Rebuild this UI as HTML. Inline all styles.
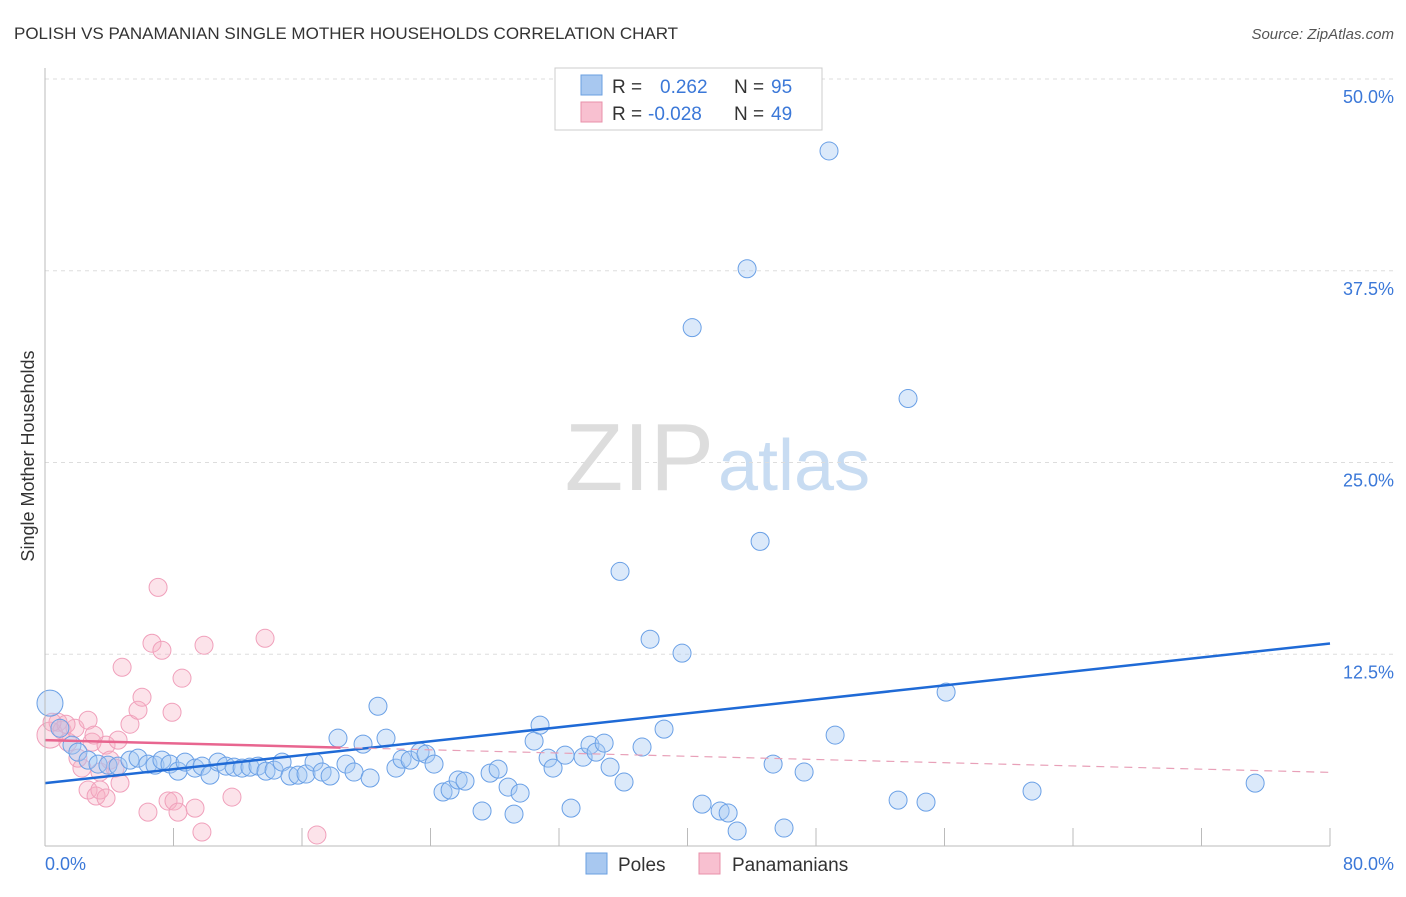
<!DOCTYPE html>
<html><head><meta charset="utf-8"><style>
body{margin:0;background:#fff;font-family:"Liberation Sans",sans-serif;}
svg text{font-family:"Liberation Sans",sans-serif;}
</style></head><body>
<svg id="chart" width="1406" height="892">
<text x="14" y="39" font-size="17" fill="#333">POLISH VS PANAMANIAN SINGLE MOTHER HOUSEHOLDS CORRELATION CHART</text>
<text x="1394" y="39" font-size="15" fill="#555" font-style="italic" text-anchor="end">Source: ZipAtlas.com</text>
<text x="714" y="490" font-size="96" fill="#ddd" text-anchor="end" font-family="Liberation Serif">ZIP</text>
<text x="718" y="490" font-size="72" fill="#c8dcf2">atlas</text>
<text transform="translate(34,456) rotate(-90)" font-size="18" fill="#333" text-anchor="middle">Single Mother Households</text>
<g id="grid"></g><g id="pts"></g><g id="lines"></g>
<line x1="45" y1="68" x2="45" y2="846" stroke="#bbb"/>
<line x1="45" y1="846" x2="1330" y2="846" stroke="#bbb"/>
<text x="45" y="870" font-size="18" fill="#3b78d8">0.0%</text>
<text x="1394" y="870" font-size="18" fill="#3b78d8" text-anchor="end">80.0%</text>
<g>
<rect x="555" y="68" width="267" height="62" fill="#fff" stroke="#ccc"/>
<rect x="581" y="75" width="21" height="20" fill="#a8c8f0" stroke="#6a9fe0"/>
<rect x="581" y="102" width="21" height="20" fill="#f8c0d0" stroke="#e890aa"/>
<text x="612" y="93" font-size="19" fill="#333">R =</text><text x="660" y="93" font-size="19" fill="#3b78d8">0.262</text>
<text x="734" y="93" font-size="19" fill="#333">N =</text><text x="771" y="93" font-size="19" fill="#3b78d8">95</text>
<text x="612" y="120" font-size="19" fill="#333">R =</text><text x="648" y="120" font-size="19" fill="#3b78d8">-0.028</text>
<text x="734" y="120" font-size="19" fill="#333">N =</text><text x="771" y="120" font-size="19" fill="#3b78d8">49</text>
</g>
<g>
<rect x="586" y="853" width="21" height="21" fill="#a8c8f0" stroke="#6a9fe0"/>
<text x="618" y="871" font-size="19" fill="#333">Poles</text>
<rect x="699" y="853" width="21" height="21" fill="#f8c0d0" stroke="#e890aa"/>
<text x="732" y="871" font-size="19" fill="#333">Panamanians</text>
</g>
</svg>
<script>
const yTicks=[12.5,25,37.5,50];
const yTickLabels=["12.5%","25.0%","37.5%","50.0%"];
const xTicks=[0,8,16,24,32,40,48,56,64,72,80];
const polesX=[0.31,0.93,1.68,2.05,2.68,3.3,3.92,4.55,5.29,5.79,6.41,6.85,7.28,7.78,8.28,8.72,9.34,9.78,10.27,10.77,11.27,11.77,12.27,12.76,13.26,13.76,14.26,14.76,15.25,15.75,16.25,16.75,17.25,17.75,18.24,18.74,19.24,19.8,20.24,20.73,21.23,21.85,22.23,22.73,23.35,23.72,24.22,24.78,25.22,25.72,26.15,27.21,27.71,28.21,28.83,29.2,29.58,30.45,30.82,31.32,31.63,32.38,32.75,33.5,33.93,34.31,34.81,35.18,35.8,36.05,37.17,37.67,38.54,39.66,40.29,40.91,42.03,42.53,43.09,43.71,44.52,45.33,46.01,47.26,48.81,49.19,53.11,53.73,54.85,56.1,61.45,75.34];
const polesY=[9.31,7.68,6.58,6.12,5.6,5.34,5.27,5.21,5.6,5.73,5.34,5.27,5.6,5.34,4.88,5.47,5.08,5.21,4.62,5.47,5.21,5.14,5.08,5.14,5.21,4.88,4.95,5.47,4.56,4.62,4.69,5.47,4.82,4.56,7.03,5.34,4.82,6.64,4.43,9.11,7.03,5.08,5.66,5.6,6.12,5.99,5.34,3.52,3.65,4.3,4.23,2.28,4.75,5.01,3.84,2.08,3.45,6.84,7.88,5.73,5.08,5.92,2.47,5.79,6.58,6.12,6.71,5.14,17.9,4.17,6.45,13.48,7.62,12.57,33.79,2.73,2.28,2.15,0.98,37.63,19.86,5.34,1.17,4.82,45.31,7.23,2.99,29.17,2.86,10.03,3.58,4.1];
const panX=[0.31,0.81,1.06,1.43,1.87,2.3,2.68,2.93,3.42,3.8,4.05,4.55,2.68,3.18,3.42,3.8,4.36,4.67,5.29,5.79,6.04,6.66,7.04,7.28,7.66,7.91,8.03,8.28,8.53,9.34,9.77,9.9,11.64,13.7,16.93,6.41,4.8,1.31,2.05,3.05,0.44];
const panY=[7.23,8.07,7.55,6.77,7.68,5.08,8.2,6.77,4.82,6.58,5.6,6.9,3.65,3.26,3.65,3.13,5.08,4.1,7.94,8.85,9.7,13.22,16.86,12.76,2.93,8.72,2.93,2.21,10.94,2.47,0.91,13.09,3.19,13.54,0.72,2.21,11.65,7.94,5.73,7.23,8.07];
const polesTrend=[4.1,13.2];
const panTrend=[6.9,4.8];
const NS="http://www.w3.org/2000/svg";
const sx=v=>45+v*(1330-45)/80;
const sy=v=>846-v*(846-79)/50;
function mk(tag,attrs,parent){const e=document.createElementNS(NS,tag);for(const k in attrs)e.setAttribute(k,attrs[k]);parent.appendChild(e);return e;}
const grid=document.getElementById('grid');
yTicks.forEach((t,i)=>{
 const l=mk('line',{x1:45,x2:1394,y1:sy(t),y2:sy(t),stroke:'#ddd','stroke-dasharray':'4,4'},grid);
 
 
 const tx=mk('text',{x:1394,y:sy(t)+24,'font-size':18,fill:'#3b78d8','text-anchor':'end'},grid);
 tx.textContent=yTickLabels[i];
 
 
});
xTicks.forEach(t=>{
 const l=mk('line',{x1:sx(t),x2:sx(t),y1:828,y2:846,stroke:'#bbb'},grid);
 
 
});
const pts=document.getElementById('pts');
panX.forEach((x,i)=>{
 const c=mk('circle',{cx:sx(x),cy:sy(panY[i]),r:i==0?13:9,fill:'rgba(246,175,196,0.35)',stroke:'#f0a0bb','stroke-width':1},pts);
 
 
});
polesX.forEach((x,i)=>{
 const c=mk('circle',{cx:sx(x),cy:sy(polesY[i]),r:i==0?13:9,fill:'rgba(165,200,242,0.4)',stroke:'#6aa0e6','stroke-width':1},pts);
 
 
});
const lines=document.getElementById('lines');
const bl=mk('line',{x1:sx(0),y1:sy(polesTrend[0]),x2:sx(80),y2:sy(polesTrend[1]),stroke:'#1f6ad6','stroke-width':2.5},lines);


const pv=x=>panTrend[0]+(panTrend[1]-panTrend[0])*x/80;
const pl=mk('line',{x1:sx(0),y1:sy(pv(0)),x2:sx(18.4),y2:sy(pv(18.4)),stroke:'#e8658f','stroke-width':2.5},lines);


const pd=mk('line',{x1:sx(18.4),y1:sy(pv(18.4)),x2:sx(80),y2:sy(pv(80)),stroke:'#e8a0b8','stroke-width':1.2,'stroke-dasharray':'8,6'},lines);


</script>
</body></html>
